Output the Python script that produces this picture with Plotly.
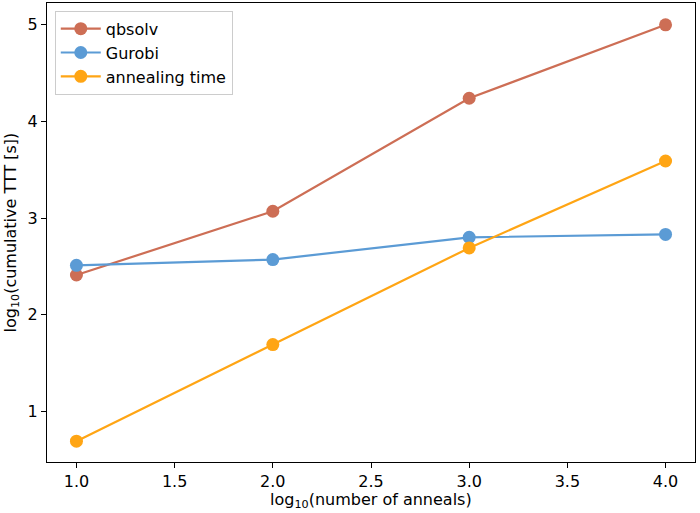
import plotly.graph_objects as go

anneals_log = [1.0, 2.0, 3.0, 4.0]
qbsolv = [2.41, 3.07, 4.24, 5.00]
gurobi = [2.51, 2.57, 2.80, 2.83]
annealing_time = [0.69, 1.69, 2.69, 3.59]

series = [
    ("qbsolv", qbsolv, "#cd6e55"),
    ("Gurobi", gurobi, "#5b9bd5"),
    ("annealing time", annealing_time, "#ffa514"),
]

fig = go.Figure()
for name, ys, col in series:
    fig.add_trace(go.Scatter(
        x=anneals_log, y=ys, name=name, mode="lines+markers",
        line=dict(color=col, width=2.2),
        marker=dict(color=col, size=13, line=dict(width=0)),
    ))

axis_common = dict(
    showgrid=False, zeroline=False, showline=True, linecolor="black",
    linewidth=1.2, mirror=True, ticks="outside", ticklen=5, tickwidth=1.2,
    tickcolor="black", tickfont=dict(size=16, color="black"), automargin=False,
)
fig.update_layout(
    width=700, height=513,
    margin=dict(l=47, r=5, t=3, b=51),
    paper_bgcolor="white", plot_bgcolor="white",
    font=dict(family="DejaVu Sans", size=16, color="black"),
    xaxis=dict(range=[0.85, 4.15], tickvals=[1.0, 1.5, 2.0, 2.5, 3.0, 3.5, 4.0],
               tickformat=".1f", **axis_common),
    yaxis=dict(range=[0.474, 5.226], tickvals=[1, 2, 3, 4, 5], **axis_common),
    legend=dict(x=0.012, y=0.983, xanchor="left", yanchor="top",
                bgcolor="rgba(255,255,255,0.8)", bordercolor="#cccccc",
                borderwidth=1, font=dict(size=16), tracegroupgap=0,
                itemwidth=40),
    showlegend=True,
    annotations=[
        dict(text="log<sub>10</sub>(number of anneals)", xref="paper", yref="paper",
             x=0.5, y=0, yshift=-38, yanchor="middle", showarrow=False,
             font=dict(size=16)),
        dict(text="log<sub>10</sub>(cumulative TTT [s])", xref="paper", yref="paper",
             x=0, xshift=-36, y=0.5, textangle=-90, xanchor="center", showarrow=False,
             font=dict(size=16)),
    ],
)
fig.write_html("out.html", post_script="document.body.style.margin='0';",
               config={"displayModeBar": False})
